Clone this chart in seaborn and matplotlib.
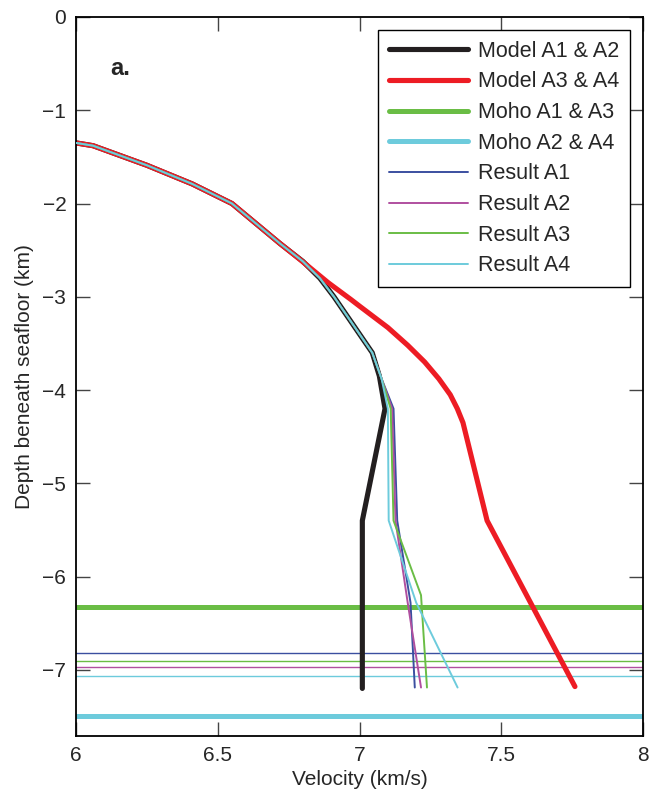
import numpy as np
import pandas as pd
import matplotlib
matplotlib.use("Agg")
import matplotlib.pyplot as plt
import seaborn as sns

# shared shallow part of every profile (velocity km/s, depth km)
shallow_v = [6.0, 6.06, 6.25, 6.41, 6.55, 6.72]
shallow_d = [-1.35, -1.38, -1.59, -1.79, -2.0, -2.43]

model_a12_v = [6.80, 6.86, 6.91, 6.955, 7.00, 7.045, 7.07, 7.09, 7.01, 7.01]
model_a12_d = [-2.62, -2.80, -3.00, -3.20, -3.40, -3.60, -3.85, -4.20, -5.40, -7.20]

model_a34_v = [6.79, 6.89, 6.97, 7.00, 7.10, 7.17, 7.23, 7.28, 7.32, 7.345, 7.365, 7.45, 7.76]
model_a34_d = [-2.60, -2.85, -3.03, -3.10, -3.33, -3.52, -3.70, -3.88, -4.05, -4.20, -4.35, -5.40, -7.18]

# results share the model A1 path down to ~3.6 km
result_top_v = [6.80, 6.86, 6.91, 6.955, 7.00, 7.045, 7.078]
result_top_d = [-2.62, -2.80, -3.00, -3.20, -3.40, -3.60, -3.88]

result_a1_v = [7.12, 7.133, 7.18, 7.195]
result_a1_d = [-4.20, -5.40, -6.28, -7.19]
result_a2_v = [7.115, 7.127, 7.17, 7.217]
result_a2_d = [-4.20, -5.40, -6.28, -7.19]
result_a3_v = [7.11, 7.12, 7.217, 7.238]
result_a3_d = [-4.20, -5.40, -6.20, -7.19]
result_a4_v = [7.10, 7.103, 7.20, 7.346]
result_a4_d = [-4.20, -5.40, -6.28, -7.19]

moho_a13 = -6.33
moho_a24 = -7.50
result_moho = {"Result A1": -6.82, "Result A3": -6.91, "Result A2": -6.97, "Result A4": -7.07}

black = "#231f20"
red = "#ed1c24"
green = "#6abd45"
cyan = "#6dcbdc"
blue = "#3b4fa0"
magenta = "#b04f9f"

sns.set_style("ticks")
plt.rcParams["font.family"] = ["Liberation Sans", "DejaVu Sans"]
plt.rcParams["font.size"] = 15
plt.rcParams["axes.unicode_minus"] = True

fig = plt.figure(figsize=(6.53, 7.98), dpi=100)
ax = fig.add_axes([76 / 653, 1 - 736 / 798, (643 - 76) / 653, (736 - 17) / 798])

def profile(name, v, d):
    return pd.DataFrame({"velocity": shallow_v + v, "depth": shallow_d + d, "curve": name})

models = {
    "Model A1 & A2": (profile("Model A1 & A2", model_a12_v, model_a12_d), black, 3.7),
    "Model A3 & A4": (profile("Model A3 & A4", model_a34_v, model_a34_d), red, 3.7),
}
results = {
    "Result A1": (profile("Result A1", result_top_v + result_a1_v, result_top_d + result_a1_d), blue),
    "Result A2": (profile("Result A2", result_top_v + result_a2_v, result_top_d + result_a2_d), magenta),
    "Result A3": (profile("Result A3", result_top_v + result_a3_v, result_top_d + result_a3_d), green),
    "Result A4": (profile("Result A4", result_top_v + result_a4_v, result_top_d + result_a4_d), cyan),
}

handles = {}

# horizontal moho lines
for name, depth in result_moho.items():
    ax.axhline(depth, color=results[name][1], lw=1.0, zorder=1)
handles["Moho A1 & A3"] = ax.axhline(moho_a13, color=green, lw=3.6, zorder=1)
handles["Moho A2 & A4"] = ax.axhline(moho_a24, color=cyan, lw=3.6, zorder=1)

for name, (df, col, lw) in models.items():
    sns.lineplot(data=df, x="velocity", y="depth", sort=False, estimator=None,
                 color=col, lw=lw, ax=ax, zorder=2)
    handles[name] = ax.lines[-1]

for name, (df, col) in results.items():
    sns.lineplot(data=df, x="velocity", y="depth", sort=False, estimator=None,
                 color=col, lw=1.4, ax=ax, zorder=3)
    handles[name] = ax.lines[-1]

order = ["Model A1 & A2", "Model A3 & A4", "Moho A1 & A3", "Moho A2 & A4",
         "Result A1", "Result A2", "Result A3", "Result A4"]
leg = ax.legend([handles[k] for k in order], order, loc="upper right",
                fontsize=15.5, frameon=True, fancybox=False, framealpha=1,
                edgecolor="black", handlelength=3.7, handletextpad=0.45,
                labelspacing=0.45, borderaxespad=0.6, borderpad=0.5)
leg.get_frame().set_linewidth(1.0)

ax.set_xlim(6, 8)
ax.set_ylim(-7.71, 0)
ax.set_xticks([6, 6.5, 7, 7.5, 8])
ax.set_xticklabels(["6", "6.5", "7", "7.5", "8"])
ax.set_yticks([0, -1, -2, -3, -4, -5, -6, -7])
ax.set_xlabel("Velocity (km/s)", fontsize=15, labelpad=4)
ax.set_ylabel("Depth beneath seafloor (km)", fontsize=15, labelpad=6)
ax.tick_params(direction="in", top=True, right=True, length=10, width=1.0,
               color="#444444", labelsize=15, pad=7)
for s in ax.spines.values():
    s.set_visible(True)
    s.set_color("black")
    s.set_linewidth(1.3)

ax.text(6.12, -0.55, "a.", fontsize=17, fontweight="bold", va="center", ha="left")

fig.savefig("out.png", dpi=100)
